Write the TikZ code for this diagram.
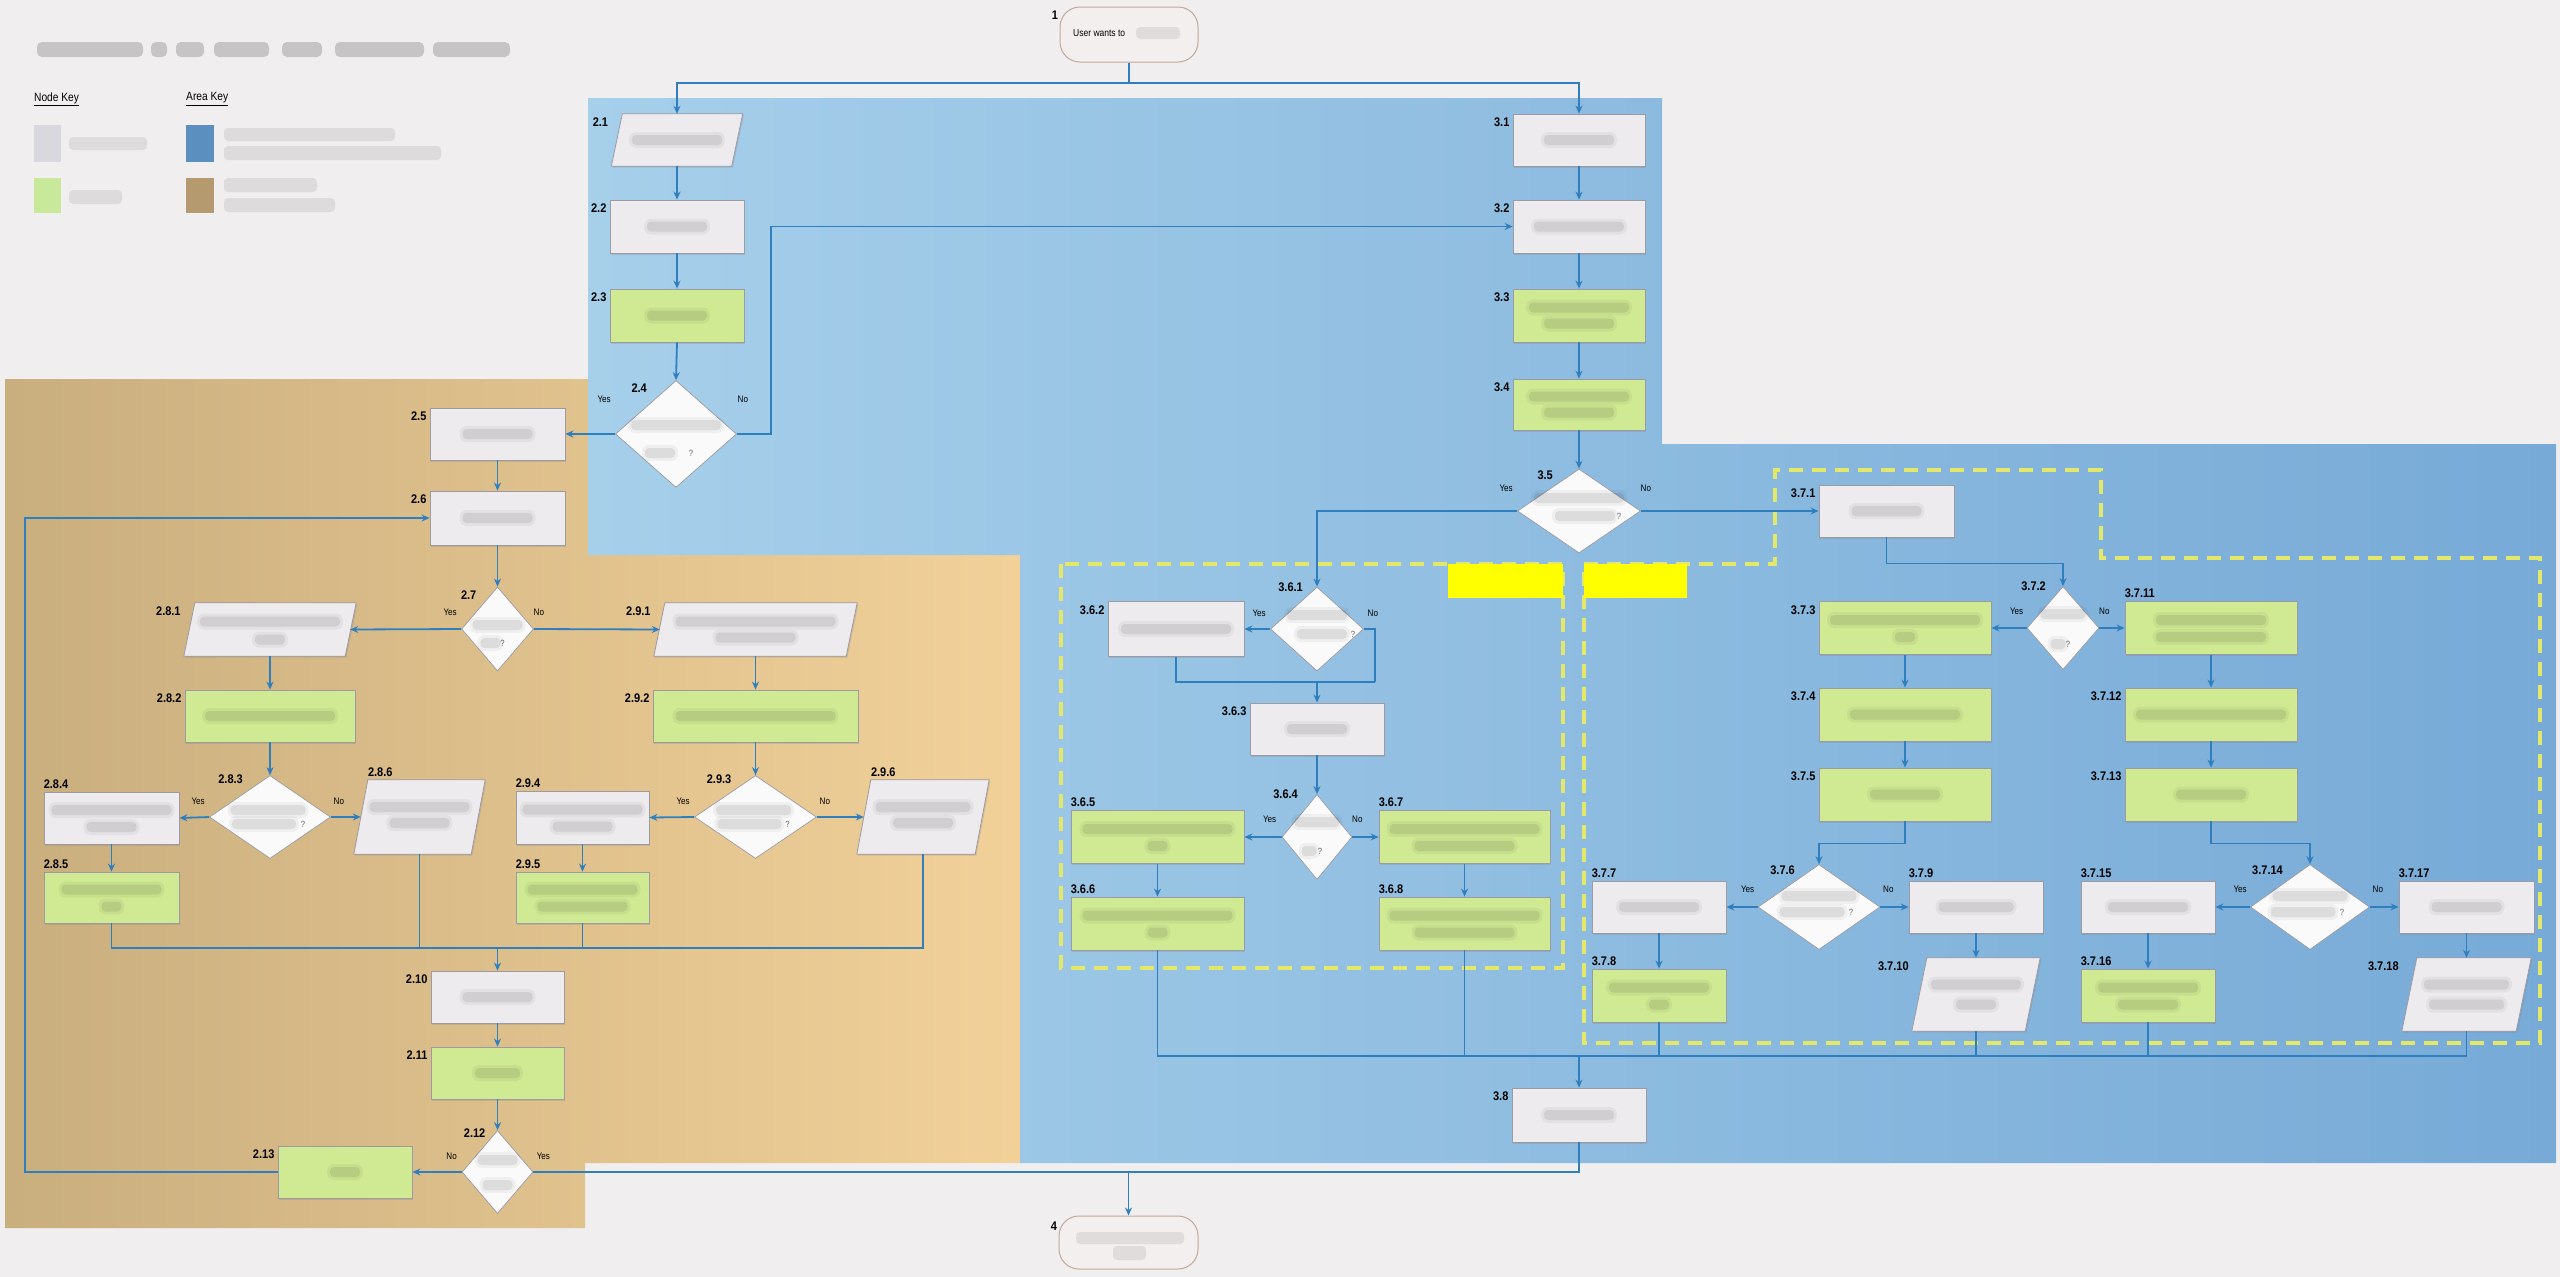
\documentclass[tikz,border=0pt]{standalone}
\usepackage{fontspec}
\setmainfont{Liberation Sans}
\newfontfamily\labfam[FakeStretch=0.88]{Liberation Sans}
\newfontfamily\narfam[FakeStretch=0.85]{Liberation Sans}
\usetikzlibrary{shapes.geometric,arrows.meta,shadows}
\definecolor{bg}{HTML}{F1EEF0}
\definecolor{tanL}{HTML}{C9AE7E}
\definecolor{tanR}{HTML}{F2D199}
\definecolor{blueL}{HTML}{A6CFEA}
\definecolor{blueR}{HTML}{77AAD7}
\definecolor{wbox}{HTML}{EEEBEF}
\definecolor{gfill}{HTML}{CFEA93}
\definecolor{nodeline}{HTML}{9C9AA3}
\definecolor{linec}{HTML}{2F7FBF}
\definecolor{dashy}{HTML}{E3E86A}
\definecolor{yel}{HTML}{FFFF00}
\definecolor{termfill}{HTML}{F4EFEF}
\definecolor{termline}{HTML}{C2A89A}
\definecolor{keygray}{HTML}{DAD8DF}
\definecolor{keygreen}{HTML}{C8E89A}
\definecolor{keyblue}{HTML}{5B8FC0}
\definecolor{keytan}{HTML}{B49A6E}

\newcommand\smr[4]{%
 \fill[smearo] ([shift={({(#2)-(#4)/2-3},{(#3)-8})}]#1.center) rectangle ([shift={({(#2)+(#4)/2+3},{(#3)+8})}]#1.center);
 \fill[smear] ([shift={({(#2)-(#4)/2},{(#3)-5})}]#1.center) rectangle ([shift={({(#2)+(#4)/2},{(#3)+5})}]#1.center);}
\newcommand\labL[3]{\node[lab,anchor=north east] (#1) at ([shift={(-3,4)}]#2.north west) {#3};}
\newcommand\labA[3]{\node[lab,anchor=south west] (#1) at ([shift={(0,-3)}]#2.north west) {#3};}
\newcommand\labPA[3]{\node[lab,anchor=south west] (#1) at ([shift={(14,-3)}]#2.north west) {#3};}
\newcommand\labD[5]{\node[lab,anchor=east] (#1) at ([shift={(#4,#5)}]#2.north) {#3};}
\newcommand\ynl[5]{\node[yn] (#1) at ([shift={(#4,#5)}]#2) {#3};}
\newcommand\qmark[4]{\node[qm] (#1) at ([shift={(#3,#4)}]#2.center) {?};}
% parallelogram: name, cx, cy, w, h, slant
\newcommand\para[6]{%
 \node[pbox,minimum width=#4pt,minimum height=#5pt] (#1) at (#2,#3) {};
 \filldraw[pshape] (#1.south west) -- ([xshift=-#6pt]#1.south east) -- (#1.north east) -- ([xshift=#6pt]#1.north west) -- cycle;}

\begin{document}
\begin{tikzpicture}[x=1pt,y=-1pt,
  sz/.style 2 args={minimum width=#1pt,minimum height=#2pt},
  shad/.style={drop shadow={shadow xshift=1.2pt,shadow yshift=-1.5pt,opacity=0.25}},
  box/.style={rectangle,draw=nodeline,line width=0.8pt,fill=wbox,inner sep=0pt,shad},
  gbox/.style={box,fill=gfill},
  dia/.style={diamond,draw=nodeline,line width=0.7pt,fill=white!96!gray,inner sep=0pt},
  pbox/.style={rectangle,draw=none,inner sep=0pt},
  pshape/.style={draw=nodeline,line width=0.8pt,fill=wbox,shad},
  term/.style={rectangle,rounded corners=20pt,draw=termline,line width=1pt,fill=termfill,inner sep=0pt},
  conn/.style={draw=linec,line width=1.8pt,-{Stealth[length=8pt,width=7pt]}},
  line/.style={draw=linec,line width=1.8pt},
  lab/.style={font=\labfam\bfseries\fontsize{12.5}{13}\selectfont,inner sep=0pt},
  yn/.style={font=\narfam\fontsize{9.5}{10}\selectfont,inner sep=0pt},
  qm/.style={font=\narfam\fontsize{9}{10}\selectfont,inner sep=0pt,text=black!60},
  smear/.style={fill=black,opacity=0.08,rounded corners=4pt},
  smearo/.style={fill=black,opacity=0.045,rounded corners=7pt},
  titlesm/.style={fill=black!75,opacity=0.24,rounded corners=5pt},
  dashbox/.style={draw=dashy,line width=3.5pt,dash pattern=on 14pt off 9pt}]

\fill[bg] (0,0) rectangle (2560,1277);
\useasboundingbox (0,0) rectangle (2560,1277);

% areas
\shade[left color=tanL,right color=tanR] (5,379) -- (588,379) -- (588,555) -- (1020,555) -- (1020,1163) -- (585,1163) -- (585,1228) -- (5,1228) -- cycle;
\shade[left color=blueL,right color=blueR] (588,98) -- (1662,98) -- (1662,444) -- (2556,444) -- (2556,1163) -- (1020,1163) -- (1020,555) -- (588,555) -- cycle;

% dashed groups
\draw[dashbox] (1061,564) rectangle (1563,968);
\draw[dashbox] (1584,564) -- (1775,564) -- (1775,470) -- (2101,470) -- (2101,558) -- (2540,558) -- (2540,1043) -- (1584,1043) -- cycle;
\fill[yel] (1448,564) rectangle (1563,598);
\fill[yel] (1584,564) rectangle (1687,598);

% title and keys
\fill[titlesm] (37,42) rectangle (143,57);
\fill[titlesm] (151,42) rectangle (167,57);
\fill[titlesm] (176,42) rectangle (204,57);
\fill[titlesm] (214,42) rectangle (269,57);
\fill[titlesm] (282,42) rectangle (322,57);
\fill[titlesm] (335,42) rectangle (424,57);
\fill[titlesm] (433,42) rectangle (510,57);
\node[font=\narfam\fontsize{12}{13}\selectfont,anchor=west,inner sep=0pt] (nkey) at (34,99) {\underline{Node Key}};
\node[font=\narfam\fontsize{12}{13}\selectfont,anchor=west,inner sep=0pt] (akey) at (186,99) {\underline{Area Key}};
\fill[keygray] (34,125) rectangle (61,162);
\fill[keygreen] (34,178) rectangle (61,213);
\fill[keyblue] (186,125) rectangle (214,162);
\fill[keytan] (186,178) rectangle (214,213);
\fill[smear] (69,137) rectangle (147,150);
\fill[smear] (69,190) rectangle (122,204);
\fill[smear] (224,128) rectangle (395,141);
\fill[smear] (224,146) rectangle (441,160);
\fill[smear] (224,178) rectangle (317,192);
\fill[smear] (224,198) rectangle (335,212);

% terminals
\node[term,sz={138}{55}] (n1) at (1129,34.5) {};
\node[font=\narfam\fontsize{10}{11}\selectfont,anchor=west,inner sep=0pt] (n1t) at (1073,33) {User wants to};
\fill[smear] (1136,27) rectangle (1180,39);
\node[lab] (L1) at (1055,15) {1};
\node[term,sz={139}{53}] (n4) at (1128.5,1242.5) {};
\fill[smear] (1076,1232) rectangle (1184,1244);
\fill[smear] (1113,1246) rectangle (1146,1260);
\node[lab] (L4) at (1054,1226) {4};

% column 2
\para{n21}{677}{140}{131}{52}{11}
\node[box,sz={134}{53}] (n22) at (677,226.5) {};
\node[gbox,sz={134}{53}] (n23) at (677,315.5) {};
\node[dia,sz={121}{107}] (d24) at (676,434) {};
\node[box,sz={135}{52}] (n25) at (497.5,434) {};
\node[box,sz={135}{54}] (n26) at (497.5,518) {};
\node[dia,sz={72}{84}] (d27) at (497.5,629) {};
\para{n281}{270}{629.5}{172}{53}{11}
\para{n291}{755.5}{629.5}{203}{53}{11}
\node[gbox,sz={170}{52}] (n282) at (270,716) {};
\node[gbox,sz={205}{52}] (n292) at (755.5,716) {};
\node[dia,sz={121}{83}] (d283) at (270,817) {};
\node[box,sz={135}{52}] (n284) at (111.5,818) {};
\node[gbox,sz={135}{51}] (n285) at (111.5,897.5) {};
\para{n286}{419.5}{817}{131}{74}{14}
\node[dia,sz={122}{83}] (d293) at (755.5,817) {};
\node[box,sz={133}{53}] (n294) at (582.5,817.5) {};
\node[gbox,sz={133}{51}] (n295) at (582.5,897.5) {};
\para{n296}{923}{817}{132}{74}{14}
\node[box,sz={133}{52}] (n210) at (497.5,997) {};
\node[gbox,sz={133}{52}] (n211) at (497.5,1073) {};
\node[dia,sz={71}{83}] (d212) at (497.5,1172) {};
\node[gbox,sz={134}{52}] (n213) at (345,1172) {};

% column 3
\node[box,sz={132}{52}] (n31) at (1579,140) {};
\node[box,sz={132}{53}] (n32) at (1579,226.5) {};
\node[gbox,sz={132}{53}] (n33) at (1579,315.5) {};
\node[gbox,sz={132}{51}] (n34) at (1579,404.5) {};
\node[dia,sz={123}{84}] (d35) at (1579,511) {};
\node[dia,sz={93}{84}] (d361) at (1317,629) {};
\node[box,sz={136}{55}] (n362) at (1176,629) {};
\node[box,sz={134}{52}] (n363) at (1317,729) {};
\node[dia,sz={70}{85}] (d364) at (1317,837) {};
\node[gbox,sz={173}{53}] (n365) at (1157.5,837) {};
\node[gbox,sz={173}{53}] (n366) at (1157.5,923.5) {};
\node[gbox,sz={171}{53}] (n367) at (1464.5,837) {};
\node[gbox,sz={171}{53}] (n368) at (1464.5,923.5) {};
\node[box,sz={135}{52}] (n371) at (1886.5,511) {};
\node[dia,sz={72}{83}] (d372) at (2063,628) {};
\node[gbox,sz={172}{53}] (n373) at (1905,628) {};
\node[gbox,sz={172}{53}] (n374) at (1905,714.5) {};
\node[gbox,sz={172}{53}] (n375) at (1905,794.5) {};
\node[gbox,sz={172}{53}] (n3711) at (2211,628) {};
\node[gbox,sz={172}{53}] (n3712) at (2211,714.5) {};
\node[gbox,sz={172}{53}] (n3713) at (2211,794.5) {};
\node[dia,sz={122}{85}] (d376) at (1819,907) {};
\node[box,sz={134}{52}] (n377) at (1659,907) {};
\node[gbox,sz={134}{53}] (n378) at (1659,995.5) {};
\node[box,sz={134}{52}] (n379) at (1976,907) {};
\para{n3710}{1976}{994.5}{128}{73}{15}
\node[dia,sz={119}{85}] (d3714) at (2310,907) {};
\node[box,sz={134}{52}] (n3715) at (2148,907) {};
\node[gbox,sz={134}{53}] (n3716) at (2148,995.5) {};
\node[box,sz={135}{52}] (n3717) at (2466.5,907) {};
\para{n3718}{2466.5}{994.5}{129}{73}{15}
\node[box,sz={134}{54}] (n38) at (1579,1115) {};

% blurred texts
\smr{n21}{0}{0}{90}
\smr{n22}{0}{0}{60}
\smr{n23}{0}{0}{60}
\smr{n25}{0}{0}{70}
\smr{n26}{0}{0}{70}
\smr{n281}{0}{-8}{140}\smr{n281}{0}{10}{30}
\smr{n291}{0}{-8}{160}\smr{n291}{0}{8}{80}
\smr{n282}{0}{0}{130}
\smr{n292}{0}{0}{160}
\smr{n284}{0}{-8}{120}\smr{n284}{0}{9}{50}
\smr{n285}{0}{-8}{100}\smr{n285}{0}{9}{20}
\smr{n286}{0}{-10}{100}\smr{n286}{0}{6}{60}
\smr{n294}{0}{-8}{120}\smr{n294}{0}{9}{60}
\smr{n295}{0}{-8}{110}\smr{n295}{0}{9}{90}
\smr{n296}{0}{-10}{95}\smr{n296}{0}{6}{60}
\smr{n210}{0}{0}{70}
\smr{n211}{0}{0}{45}
\smr{n213}{0}{0}{30}
\smr{n31}{0}{0}{70}
\smr{n32}{0}{0}{90}
\smr{n33}{0}{-8}{100}\smr{n33}{0}{8}{70}
\smr{n34}{0}{-8}{100}\smr{n34}{0}{8}{70}
\smr{n362}{0}{0}{110}
\smr{n363}{0}{0}{60}
\smr{n365}{0}{-8}{150}\smr{n365}{0}{9}{20}
\smr{n366}{0}{-8}{150}\smr{n366}{0}{9}{20}
\smr{n367}{0}{-8}{150}\smr{n367}{0}{9}{100}
\smr{n368}{0}{-8}{150}\smr{n368}{0}{9}{100}
\smr{n371}{0}{0}{70}
\smr{n373}{0}{-8}{150}\smr{n373}{0}{9}{20}
\smr{n374}{0}{0}{110}
\smr{n375}{0}{0}{70}
\smr{n3711}{0}{-8}{110}\smr{n3711}{0}{9}{110}
\smr{n3712}{0}{0}{150}
\smr{n3713}{0}{0}{70}
\smr{n377}{0}{0}{80}
\smr{n378}{0}{-8}{100}\smr{n378}{0}{9}{20}
\smr{n379}{0}{0}{75}
\smr{n3710}{0}{-10}{90}\smr{n3710}{0}{10}{40}
\smr{n3715}{0}{0}{80}
\smr{n3716}{0}{-8}{100}\smr{n3716}{0}{9}{60}
\smr{n3717}{0}{0}{70}
\smr{n3718}{0}{-10}{85}\smr{n3718}{0}{10}{75}
\smr{n38}{0}{0}{70}
% diamonds
\smr{d24}{0}{-9}{90}\smr{d24}{-16}{19}{30}
\smr{d27}{0}{-4}{50}\smr{d27}{-7}{14}{20}
\smr{d283}{-2}{-7}{75}\smr{d283}{-6}{7}{64}
\smr{d293}{-2}{-7}{75}\smr{d293}{-6}{7}{64}
\smr{d35}{0}{-13}{90}\smr{d35}{6}{5}{60}
\smr{d361}{0}{-14}{60}\smr{d361}{5}{5}{50}
\smr{d364}{0}{-15}{45}\smr{d364}{-8}{14}{15}
\smr{d372}{0}{-14}{45}\smr{d372}{-5}{16}{15}
\smr{d376}{0}{-11}{75}\smr{d376}{-7}{5}{65}
\smr{d3714}{0}{-11}{75}\smr{d3714}{-7}{5}{65}
\smr{d212}{0}{-12}{40}\smr{d212}{0}{13}{30}
\qmark{Q24}{d24}{15}{19}
\qmark{Q27}{d27}{5}{14}
\qmark{Q283}{d283}{33}{7}
\qmark{Q293}{d293}{32}{7}
\qmark{Q35}{d35}{40}{5}
\qmark{Q361}{d361}{36}{5}
\qmark{Q364}{d364}{3}{14}
\qmark{Q372}{d372}{5}{16}
\qmark{Q376}{d376}{32}{5}
\qmark{Q3714}{d3714}{32}{5}

% number labels
\labL{L21}{n21}{2.1}
\labL{L22}{n22}{2.2}
\labL{L23}{n23}{2.3}
\labD{L24}{d24}{2.4}{-29}{8}
\labL{L25}{n25}{2.5}
\labL{L26}{n26}{2.6}
\labD{L27}{d27}{2.7}{-21}{8}
\labL{L281}{n281}{2.8.1}
\labL{L282}{n282}{2.8.2}
\labD{L283}{d283}{2.8.3}{-27}{4}
\labA{L284}{n284}{2.8.4}
\labA{L285}{n285}{2.8.5}
\labPA{L286}{n286}{2.8.6}
\labL{L291}{n291}{2.9.1}
\labL{L292}{n292}{2.9.2}
\labD{L293}{d293}{2.9.3}{-24}{4}
\labA{L294}{n294}{2.9.4}
\labA{L295}{n295}{2.9.5}
\labPA{L296}{n296}{2.9.6}
\labL{L210}{n210}{2.10}
\labL{L211}{n211}{2.11}
\labD{L212}{d212}{2.12}{-12}{3}
\labL{L213}{n213}{2.13}
\labL{L31}{n31}{3.1}
\labL{L32}{n32}{3.2}
\labL{L33}{n33}{3.3}
\labL{L34}{n34}{3.4}
\labD{L35}{d35}{3.5}{-26}{7}
\labD{L361}{d361}{3.6.1}{-14}{1}
\labL{L362}{n362}{3.6.2}
\labL{L363}{n363}{3.6.3}
\labD{L364}{d364}{3.6.4}{-19}{0}
\labA{L365}{n365}{3.6.5}
\labA{L366}{n366}{3.6.6}
\labA{L367}{n367}{3.6.7}
\labA{L368}{n368}{3.6.8}
\labL{L371}{n371}{3.7.1}
\labD{L372}{d372}{3.7.2}{-17}{0}
\labL{L373}{n373}{3.7.3}
\labL{L374}{n374}{3.7.4}
\labL{L375}{n375}{3.7.5}
\labD{L376}{d376}{3.7.6}{-24}{6}
\labA{L377}{n377}{3.7.7}
\labA{L378}{n378}{3.7.8}
\labA{L379}{n379}{3.7.9}
\labL{L3710}{n3710}{3.7.10}
\labA{L3711}{n3711}{3.7.11}
\labL{L3712}{n3712}{3.7.12}
\labL{L3713}{n3713}{3.7.13}
\labD{L3714}{d3714}{3.7.14}{-27}{6}
\labA{L3715}{n3715}{3.7.15}
\labA{L3716}{n3716}{3.7.16}
\labA{L3717}{n3717}{3.7.17}
\labL{L3718}{n3718}{3.7.18}
\labL{L38}{n38}{3.8}

% yes / no
\ynl{Y24}{d24.west}{Yes}{-11}{-35}
\ynl{N24}{d24.east}{No}{6}{-35}
\ynl{Y27}{d27.west}{Yes}{-11}{-17}
\ynl{N27}{d27.east}{No}{5}{-17}
\ynl{Y283}{d283.west}{Yes}{-11}{-16}
\ynl{N283}{d283.east}{No}{8}{-16}
\ynl{Y293}{d293.west}{Yes}{-11}{-16}
\ynl{N293}{d293.east}{No}{8}{-16}
\ynl{N212}{d212.west}{No}{-10}{-16}
\ynl{Y212}{d212.east}{Yes}{10}{-16}
\ynl{Y35}{d35.west}{Yes}{-11}{-23}
\ynl{N35}{d35.east}{No}{5}{-23}
\ynl{Y361}{d361.west}{Yes}{-11}{-16}
\ynl{N361}{d361.east}{No}{9}{-16}
\ynl{Y364}{d364.west}{Yes}{-12}{-18}
\ynl{N364}{d364.east}{No}{5}{-18}
\ynl{Y372}{d372.west}{Yes}{-10}{-17}
\ynl{N372}{d372.east}{No}{5}{-17}
\ynl{Y376}{d376.west}{Yes}{-10}{-18}
\ynl{N376}{d376.east}{No}{8}{-18}
\ynl{Y3714}{d3714.west}{Yes}{-10}{-18}
\ynl{N3714}{d3714.east}{No}{8}{-18}

% connectors: top
\coordinate (t1) at (1129,83);
\draw[line] (n1.south) -- (t1);
\draw[conn] (t1) -| (n21.north);
\draw[conn] (t1) -| (n31.north);
% column 2
\draw[conn] (n21.south) -- (n22.north);
\draw[conn] (n22.south) -- (n23.north);
\draw[conn] (n23.south) -- (d24.north);
\draw[conn] (d24.west) -- (n25.east);
\draw[conn] (d24.east) -- ++(34,0) |- (n32.west);
\draw[conn] (n25.south) -- (n26.north);
\draw[conn] (n26.south) -- (d27.north);
\draw[conn] (d27.west) -- ([xshift=-6pt]n281.east);
\draw[conn] (d27.east) -- ([xshift=6pt]n291.west);
\draw[conn] (n281.south) -- (n282.north);
\draw[conn] (n282.south) -- (d283.north);
\draw[conn] (d283.west) -- (n284.east);
\draw[conn] (d283.east) -- ([xshift=7pt]n286.west);
\draw[conn] (n284.south) -- (n285.north);
\draw[conn] (n291.south) -- (n292.north);
\draw[conn] (n292.south) -- (d293.north);
\draw[conn] (d293.west) -- (n294.east);
\draw[conn] (d293.east) -- ([xshift=7pt]n296.west);
\draw[conn] (n294.south) -- (n295.north);
\coordinate (m2) at (497.5,948);
\draw[line] (n285.south) -- (n285.south |- m2) -- (n296.south |- m2) -- (n296.south);
\draw[line] (n286.south) -- (n286.south |- m2);
\draw[line] (n295.south) -- (n295.south |- m2);
\draw[conn] (m2) -- (n210.north);
\draw[conn] (n210.south) -- (n211.north);
\draw[conn] (n211.south) -- (d212.north);
\draw[conn] (d212.west) -- (n213.east);
\draw[conn] (n213.west) -- ++(-253,0) |- (n26.west);
\coordinate (j4) at (1128.5,1172);
\draw[line] (d212.east) -- (j4);
\draw[line] (n38.south) |- (j4);
\draw[conn] (j4) -- (n4.north);
% column 3
\draw[conn] (n31.south) -- (n32.north);
\draw[conn] (n32.south) -- (n33.north);
\draw[conn] (n33.south) -- (n34.north);
\draw[conn] (n34.south) -- (d35.north);
\draw[conn] (d35.west) -| (d361.north);
\draw[conn] (d35.east) -- (n371.west);
\draw[conn] (d361.west) -- (n362.east);
\coordinate (j36) at (1375,682);
\draw[line] (d361.east) -| (j36);
\draw[line] (n362.south) |- (j36);
\draw[conn] (n363.north |- j36) -- (n363.north);
\draw[conn] (n363.south) -- (d364.north);
\draw[conn] (d364.west) -- (n365.east);
\draw[conn] (d364.east) -- (n367.west);
\draw[conn] (n365.south) -- (n366.north);
\draw[conn] (n367.south) -- (n368.north);
\draw[conn] (n371.south) -- ++(0,26) -| (d372.north);
\draw[conn] (d372.west) -- (n373.east);
\draw[conn] (d372.east) -- (n3711.west);
\draw[conn] (n373.south) -- (n374.north);
\draw[conn] (n374.south) -- (n375.north);
\draw[conn] (n375.south) -- ++(0,22) -| (d376.north);
\draw[conn] (d376.west) -- (n377.east);
\draw[conn] (d376.east) -- (n379.west);
\draw[conn] (n377.south) -- (n378.north);
\draw[conn] (n379.south) -- (n3710.north);
\draw[conn] (n3711.south) -- (n3712.north);
\draw[conn] (n3712.south) -- (n3713.north);
\draw[conn] (n3713.south) -- ++(0,22) -| (d3714.north);
\draw[conn] (d3714.west) -- (n3715.east);
\draw[conn] (d3714.east) -- (n3717.west);
\draw[conn] (n3715.south) -- (n3716.north);
\draw[conn] (n3717.south) -- (n3718.north);
\coordinate (m3) at (1579,1056);
\draw[line] (n366.south) -- (n366.south |- m3) -- (n3718.south |- m3) -- (n3718.south);
\draw[line] (n368.south) -- (n368.south |- m3);
\draw[line] (n378.south) -- (n378.south |- m3);
\draw[line] (n3710.south) -- (n3710.south |- m3);
\draw[line] (n3716.south) -- (n3716.south |- m3);
\draw[conn] (m3) -- (n38.north);
\end{tikzpicture}
\end{document}
